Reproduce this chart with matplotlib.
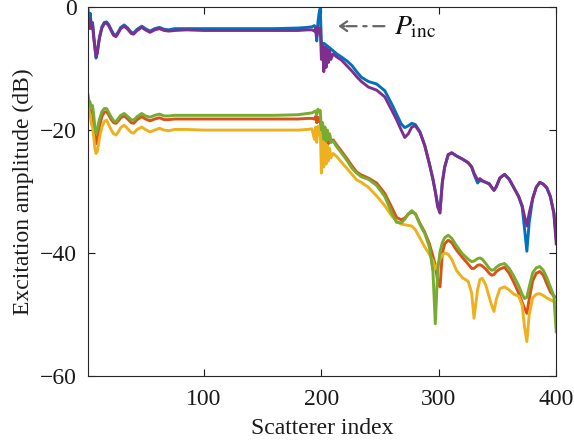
import matplotlib
matplotlib.use("Agg")
import matplotlib.pyplot as plt

plt.rcParams['font.family'] = ['Liberation Serif', 'DejaVu Serif']
plt.rcParams['mathtext.fontset'] = 'stix'

# scatterer index (shared by all curves)
idx = [1, 2, 3, 4, 5, 6, 7, 8, 9, 10, 11, 13, 15, 17, 19, 21, 23, 25, 27, 29,
       32, 35, 38, 40, 43, 47, 50, 54, 58, 62, 66, 70, 75, 85, 100, 120, 140, 160, 180, 188,
       192, 194, 195, 196, 197, 198, 199, 200, 201, 202, 203, 204, 205, 206, 207, 208, 210, 213, 217, 222,
       226, 230, 234, 240, 247, 254, 260, 264, 268, 271, 274, 277, 280, 284, 288, 292, 295, 297, 299, 301,
       303, 305, 308, 311, 315, 320, 325, 328, 330, 333, 335, 337, 340, 343, 345, 347, 349, 352, 356, 360,
       364, 368, 371, 373, 375, 377, 380, 383, 386, 389, 392, 395, 398, 400]

amp_blue = [0.0, -2.5, -1.0, -3.0, -2.5, -4.5, -6.5, -8.3, -7.5, -6.0, -4.8, -3.2, -2.5, -2.4, -2.9, -3.7, -4.4, -4.6, -4.0, -3.3,
            -2.9, -3.4, -4.1, -4.2, -3.6, -3.1, -3.5, -3.9, -3.5, -3.3, -3.6, -3.7, -3.5, -3.5, -3.5, -3.5, -3.5, -3.5, -3.4, -3.3,
            -3.2, -3.0, -3.3, -5.5, -2.5, -1.0, -0.2, -5.8, -6.0, -5.9, -6.0, -6.2, -6.3, -6.5, -6.6, -6.8, -7.1, -7.6, -8.1, -8.8,
            -9.5, -10.5, -11.4, -12.1, -12.5, -13.6, -15.8, -17.4, -19.0, -19.6, -19.3, -18.9, -19.1, -20.3, -22.5, -25.5, -28.0, -30.0, -32.0, -33.0,
            -28.5, -26.0, -24.0, -23.7, -24.2, -24.7, -25.3, -26.0, -27.2, -28.6, -28.2, -28.3, -28.5, -28.7, -29.3, -29.8, -29.2, -27.8, -27.2, -28.0,
            -29.4, -30.8, -32.5, -36.0, -39.7, -35.0, -31.1, -29.3, -28.5, -28.8, -29.4, -30.8, -33.5, -37.5]

amp_purple = [-1.5, -3.5, -2.0, -3.5, -2.8, -5.0, -6.5, -8.0, -7.5, -6.2, -5.0, -3.4, -2.7, -2.6, -3.1, -3.9, -4.6, -4.8, -4.2, -3.5,
              -3.1, -3.6, -4.3, -4.4, -3.8, -3.3, -3.7, -4.1, -3.7, -3.5, -3.8, -3.9, -3.8, -3.7, -3.8, -3.8, -3.8, -3.8, -3.8, -3.7,
              -3.7, -3.9, -3.4, -4.8, -3.2, -4.2, -3.5, -8.5, -6.2, -10.5, -6.5, -9.8, -6.8, -9.0, -7.0, -8.5, -7.6, -8.1, -8.6, -9.6,
              -10.4, -11.3, -12.1, -13.0, -13.5, -14.6, -16.8, -18.3, -20.0, -21.2, -20.6, -19.5, -19.3, -20.4, -22.5, -25.5, -28.0, -30.0, -32.5, -33.5,
              -28.5, -26.0, -24.0, -23.7, -24.2, -24.7, -25.3, -26.0, -27.0, -28.1, -27.9, -28.2, -28.5, -28.8, -29.3, -29.8, -29.2, -27.8, -27.2, -28.0,
              -29.4, -30.8, -32.3, -34.0, -35.6, -33.5, -31.1, -29.3, -28.5, -28.8, -29.4, -30.8, -33.5, -38.5]

amp_red = [-14.2, -15.5, -16.0, -17.5, -17.0, -19.0, -21.0, -22.2, -21.5, -20.5, -19.3, -17.8, -17.1, -17.0, -17.6, -18.3, -18.8, -18.9, -18.5, -18.0,
           -17.7, -18.2, -18.8, -18.9, -18.3, -17.8, -18.2, -18.5, -18.2, -18.0, -18.3, -18.3, -18.2, -18.2, -18.2, -18.2, -18.2, -18.2, -18.2, -18.1,
           -18.1, -18.2, -17.8, -18.8, -17.9, -18.6, -18.3, -20.5, -19.5, -22.5, -20.0, -22.0, -20.3, -22.2, -20.8, -22.0, -21.6, -22.4, -23.4, -24.7,
           -25.8, -26.8, -27.3, -27.8, -28.6, -30.3, -32.6, -34.2, -34.6, -34.3, -33.7, -33.3, -33.6, -35.2, -36.6, -38.5, -40.5, -42.0, -44.5, -45.5,
           -40.0, -38.5, -37.9, -38.3, -39.5, -40.7, -41.8, -42.5, -42.5, -42.0, -41.9, -42.1, -42.6, -43.3, -43.6, -43.5, -43.0, -42.6, -42.3, -43.3,
           -44.8, -46.5, -48.0, -49.0, -49.8, -47.5, -44.5, -43.3, -43.0, -43.6, -45.0, -46.3, -47.0, -47.2]

amp_green = [-14.8, -15.2, -15.5, -16.5, -16.0, -17.5, -19.5, -20.5, -20.0, -19.0, -18.2, -17.0, -16.5, -16.5, -17.2, -17.9, -18.5, -18.6, -18.1, -17.6,
             -17.3, -17.8, -18.3, -18.4, -17.8, -17.3, -17.7, -17.9, -17.6, -17.4, -17.7, -17.7, -17.6, -17.6, -17.6, -17.6, -17.6, -17.6, -17.5, -17.3,
             -17.2, -17.0, -16.9, -17.5, -16.6, -17.0, -16.8, -20.0, -18.8, -21.5, -19.5, -21.8, -20.0, -21.5, -20.6, -22.0, -21.8, -22.7, -23.7, -25.0,
             -26.2, -27.0, -27.6, -28.0, -29.0, -30.8, -33.5, -35.0, -35.1, -34.5, -33.6, -33.1, -33.6, -35.4, -36.8, -39.0, -43.0, -51.5, -43.0, -39.8,
             -38.3, -37.5, -37.1, -37.6, -38.8, -40.1, -41.0, -41.4, -41.3, -40.9, -40.8, -41.0, -41.7, -42.5, -42.8, -42.7, -42.3, -41.9, -41.7, -42.5,
             -43.8, -45.3, -46.7, -47.4, -47.2, -45.5, -43.2, -42.4, -42.2, -42.8, -44.0, -45.5, -47.0, -52.8]

amp_yellow = [-15.5, -17.0, -17.5, -19.0, -19.5, -21.0, -23.0, -23.8, -23.5, -22.5, -21.2, -19.5, -18.6, -18.4, -19.2, -20.0, -20.6, -20.8, -20.3, -19.6,
              -19.2, -19.8, -20.4, -20.5, -19.9, -19.5, -19.9, -20.3, -20.0, -19.7, -20.0, -20.1, -19.9, -19.9, -20.0, -20.0, -20.0, -20.0, -20.0, -19.9,
              -19.8, -21.5, -19.5, -22.0, -19.4, -20.8, -19.6, -27.0, -21.5, -26.0, -22.0, -25.5, -22.5, -25.0, -23.0, -24.5, -23.8, -24.3, -25.2, -26.3,
              -27.2, -28.1, -28.5, -29.3, -30.7, -32.3, -34.0, -34.8, -35.3, -35.4, -35.5, -35.6, -36.2, -37.6, -39.0, -40.2, -41.3, -42.6, -41.8, -41.0,
              -40.3, -40.0, -40.2, -41.0, -42.8, -44.0, -44.6, -46.5, -50.6, -46.0, -44.3, -44.1, -45.2, -47.2, -48.5, -49.5, -47.5, -45.8, -45.5, -46.0,
              -46.7, -47.0, -48.5, -52.0, -54.4, -50.0, -47.3, -46.7, -46.6, -46.9, -47.3, -47.6, -47.9, -48.0]

series = [
    (amp_blue, '#0072BD'),
    (amp_red, '#D95319'),
    (amp_yellow, '#EDB120'),
    (amp_purple, '#7E2F8E'),
    (amp_green, '#77AC30'),
]

fig = plt.figure(figsize=(5.74, 4.45), dpi=100)
ax = fig.add_axes([0.153, 0.155, 0.816, 0.829])

for vals, col in series:
    ax.plot(idx, vals, color=col, linewidth=2.1)

ax.set_xlim(1, 400)
ax.set_ylim(-60, 0)
ax.set_xticks([100, 200, 300, 400])
ax.set_yticks([-60, -40, -20, 0])
ax.tick_params(direction='in', length=5, width=0.8, top=True, right=True,
               labelsize=17, colors='#1a1a1a')
ax.tick_params(axis='x', pad=9)
ax.tick_params(axis='y', pad=8)
for sp in ax.spines.values():
    sp.set_color('#262626')
    sp.set_linewidth(0.8)

ax.set_xlabel('Scatterer index', fontsize=17, color='#1a1a1a', labelpad=6)
ax.set_ylabel('Excitation amplitude (dB)', fontsize=17, color='#1a1a1a', labelpad=4)

# P_inc pointer
ax.annotate('', xy=(219, -3.1), xytext=(256, -3.1),
            arrowprops=dict(arrowstyle='-', linestyle=(0, (5, 3, 1.5, 3)), color='#666666', lw=1.6))
ax.annotate('', xy=(212, -3.1), xytext=(222, -3.1),
            arrowprops=dict(arrowstyle='->,head_length=0.5,head_width=0.35', color='#666666', lw=1.6))
ax.text(262, -3.4, r'$P_{\rm inc}$', fontsize=20, color='#111111', va='center', ha='left')

fig.savefig('out.png', dpi=100)
